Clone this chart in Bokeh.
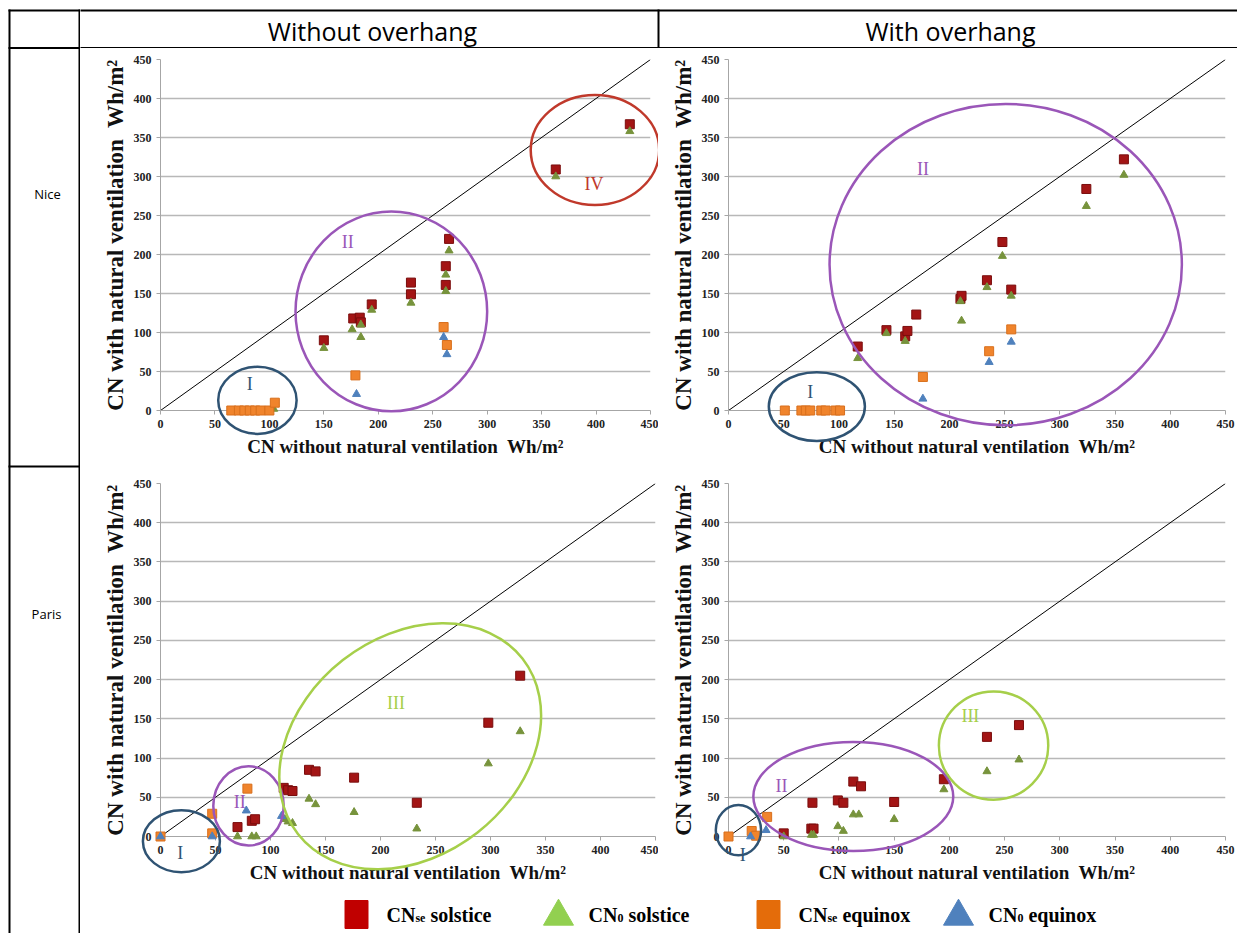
import math
from bokeh.plotting import figure
from bokeh.models import Range1d, FixedTicker
from bokeh.layouts import row, column
from bokeh.core.properties import value
from bokeh.embed import file_html
from bokeh.resources import INLINE

# ---------------- data ----------------
TICKS = [0, 50, 100, 150, 200, 250, 300, 350, 400, 450]
DIAG = [0, 450]

COL_HEADERS = ["Without overhang", "With overhang"]
ROW_LABELS = ["Nice", "Paris"]
X_LABEL = "CN without natural ventilation\u00a0 Wh/m\u00b2"
Y_LABEL = "CN with natural ventilation\u00a0 Wh/m\u00b2"
LEGEND = [("CN", "se", "solstice"), ("CN", "0", "solstice"),
          ("CN", "se", "equinox"), ("CN", "0", "equinox")]

# Nice, without overhang
nice_wo_se_sol_x = [150, 177, 183, 184, 194, 230, 230, 262, 262, 265, 363, 431]
nice_wo_se_sol_y = [90, 118, 119, 113, 136, 164, 149, 185, 161, 220, 309, 367]
nice_wo_0_sol_x = [104, 150, 176, 184, 184, 194, 230, 262, 262, 265, 363, 431]
nice_wo_0_sol_y = [2, 80, 104, 94, 110, 129, 138, 174, 153, 205, 300, 358]
nice_wo_se_eq_x = [65, 72, 77, 82, 87, 92, 100, 105, 179, 260, 263]
nice_wo_se_eq_y = [0, 0, 0, 0, 0, 0, 0, 10, 45, 107, 84]
nice_wo_0_eq_x = [180, 260, 263]
nice_wo_0_eq_y = [21, 94, 72]

# Nice, with overhang
nice_w_se_sol_x = [117, 143, 160, 162, 170, 210, 211, 234, 248, 256, 324, 358]
nice_w_se_sol_y = [82, 103, 95, 102, 123, 143, 147, 167, 216, 155, 284, 322]
nice_w_0_sol_x = [117, 143, 160, 210, 211, 234, 248, 256, 324, 358]
nice_w_0_sol_y = [67, 99, 89, 140, 115, 158, 198, 147, 262, 302]
nice_w_se_eq_x = [51, 66, 70, 74, 84, 88, 97, 101, 176, 236, 256]
nice_w_se_eq_y = [0, 0, 0, 0, 0, 0, 0, 0, 43, 76, 104]
nice_w_0_eq_x = [176, 236, 256]
nice_w_0_eq_y = [15, 62, 88]

# Paris, without overhang
paris_wo_se_sol_x = [70, 83, 86, 112, 116, 120, 135, 141, 176, 233, 298, 327]
paris_wo_se_sol_y = [12, 20, 22, 62, 59, 58, 85, 83, 75, 43, 145, 205]
paris_wo_0_sol_x = [70, 83, 87, 113, 116, 120, 135, 141, 176, 233, 298, 327]
paris_wo_0_sol_y = [0, 0, 0, 22, 19, 17, 48, 41, 31, 10, 93, 134]
paris_wo_se_eq_x = [0, 47, 47, 79]
paris_wo_se_eq_y = [0, 29, 4, 61]
paris_wo_0_eq_x = [0, 47, 78, 110]
paris_wo_0_eq_y = [0, 0, 33, 26]

# Paris, with overhang
paris_w_se_sol_x = [50, 75, 77, 76, 99, 104, 113, 120, 150, 195, 234, 263]
paris_w_se_sol_y = [4, 10, 10, 43, 46, 43, 70, 64, 44, 73, 127, 142]
paris_w_0_sol_x = [50, 75, 77, 99, 104, 113, 118, 150, 195, 234, 263]
paris_w_0_sol_y = [0, 2, 2, 13, 7, 28, 28, 22, 60, 83, 98]
paris_w_se_eq_x = [0, 21, 25, 35]
paris_w_se_eq_y = [0, 7, 1, 25]
paris_w_0_eq_x = [20, 34]
paris_w_0_eq_y = [0, 8]

# ---------------- styles ----------------
C_RED = "#a31515"
C_GREEN = "#77933c"
C_ORANGE = "#f0842c"
C_BLUE = "#4f81bd"
LEG_COLORS = ["#c00000", "#92d050", "#e46c0a", "#4f81bd"]
E_I = "#2f5373"
E_II = "#9a56b8"
E_III = "#a6cf4a"
E_IV = "#c0392b"
SERIF = "Liberation Serif"
SANS = "Open Sans"

# cluster annotations: (cx, cy, w, h, angle_deg, colour, label, lx, ly)
ELL_NICE_WO = [(89, 13, 72, 86, 0, E_I, "I", 82, 34),
               (212, 127, 176, 256, 0, E_II, "II", 172, 216),
               (399, 334, 118, 141, 0, E_IV, "IV", 398, 291)]
ELL_NICE_W = [(80, 5, 87, 88, 0, E_I, "I", 74, 24),
              (251, 187, 319, 412, 0, E_II, "II", 176, 310)]
ELL_PARIS_WO = [(19, -6, 70, 79, 0, E_I, "I", 18, -21),
                (80, 39, 64, 101, 0, E_II, "II", 72, 44),
                (227, 115, 259, 279, 38, E_III, "III", 214, 170)]
ELL_PARIS_W = [(9, 8, 41, 64, 0, E_I, "I", 13, -23),
               (113, 51, 181, 139, 0, E_II, "II", 48, 65),
               (240, 116, 99, 138, 0, E_III, "III", 219, 154)]


def make_panel(w, h, borders, series, ellipses):
    bl, br, bt, bb = borders
    p = figure(width=w, height=h, output_backend="svg", toolbar_location=None,
               x_range=Range1d(0, 450), y_range=Range1d(0, 450),
               min_border_left=bl, min_border_right=br,
               min_border_top=bt, min_border_bottom=bb,
               background_fill_color="white", border_fill_color="white",
               outline_line_color=None)
    p.xgrid.visible = False
    p.ygrid.ticker = FixedTicker(ticks=TICKS)
    p.ygrid.grid_line_color = "#b8b8b8"
    p.ygrid.grid_line_width = 1.5
    for ax in (p.xaxis[0], p.yaxis[0]):
        ax.ticker = FixedTicker(ticks=TICKS)
        ax.major_label_text_font = SERIF
        ax.major_label_text_font_style = "bold"
        ax.major_label_text_font_size = "12px"
        ax.major_label_text_color = "#222222"
        ax.axis_line_color = "#a6a6a6"
        ax.major_tick_line_color = "#a6a6a6"
        ax.minor_tick_line_color = None
        ax.major_tick_in = 0
        ax.major_tick_out = 4
        ax.major_label_standoff = 5
        ax.axis_label_text_font = SERIF
        ax.axis_label_text_font_style = "bold"
        ax.axis_label_text_color = "#111111"
    p.xaxis.axis_label = X_LABEL
    p.xaxis.axis_label_text_font_size = "19px"
    p.xaxis.axis_label_standoff = 5
    p.yaxis.axis_label = Y_LABEL
    p.yaxis.axis_label_text_font_size = "23px"
    p.yaxis.axis_label_standoff = 3

    p.line(DIAG, DIAG, line_color="black", line_width=1)

    (rx, ry), (gx, gy), (ox, oy), (bx, by) = series
    p.scatter(rx, ry, marker="square", size=9, fill_color=C_RED, line_color="#7a0d0d", level="overlay")
    p.scatter(gx, gy, marker="triangle", size=8, fill_color=C_GREEN, line_color=C_GREEN, level="overlay")
    p.scatter(ox, oy, marker="square", size=9, fill_color=C_ORANGE, line_color="#d86f1c", level="overlay")
    p.scatter(bx, by, marker="triangle", size=8, fill_color=C_BLUE, line_color=C_BLUE, level="overlay")

    for cx, cy, ew, eh, ang, col, lab, lx, ly in ellipses:
        p.ellipse(x=[cx], y=[cy], width=[ew], height=[eh], angle=math.radians(ang),
                  fill_color=None, line_color=col, line_width=2.5, level="overlay")
        p.text(x=[lx], y=[ly], text=[lab], text_color=col, text_font=value(SERIF),
               text_font_size="18px", text_align="center", text_baseline="middle",
               level="overlay")
    return p


def deco_fig(w, h):
    p = figure(width=w, height=h, output_backend="svg", toolbar_location=None,
               x_range=Range1d(0, w), y_range=Range1d(h, 0),
               x_axis_location=None, y_axis_location=None,
               min_border=0, min_border_left=0, min_border_right=0,
               min_border_top=0, min_border_bottom=0,
               background_fill_color="white", border_fill_color="white",
               outline_line_color=None)
    p.grid.visible = False
    return p


HDR_H, NICE_H, PARIS_H, LEG_H = 48, 417, 430, 38
TOTAL_H = HDR_H + NICE_H + PARIS_H + LEG_H

# ---------------- left label column ----------------
lab = deco_fig(80, TOTAL_H)
lab.segment(x0=[8, 9, 79, 8, 8], y0=[10, 9, 9, 47.5, 466],
            x1=[80, 9, 79, 80, 80], y1=[10, TOTAL_H, TOTAL_H, 47.5, 466],
            line_color="black", line_width=2, level="overlay")
lab.text(x=[47, 46], y=[193, 613], text=ROW_LABELS, text_font=value(SANS),
         text_font_size="13px", text_align="center", text_baseline="middle",
         text_color="black")

# ---------------- header row ----------------
hdr = deco_fig(1157, HDR_H)
hdr.segment(x0=[0, 0, 578], y0=[10, 47.5, 9], x1=[1157, 1157, 578], y1=[10, 47.5, HDR_H],
            line_color="black", line_width=2, level="overlay")
hdr.text(x=[292, 870], y=[30, 30], text=COL_HEADERS, text_font=value(SANS),
         text_font_size="25px", text_align="center", text_baseline="middle",
         text_color="black")

# ---------------- panels ----------------
nw = make_panel(578, NICE_H, (80, 8, 11, 55),
                [(nice_wo_se_sol_x, nice_wo_se_sol_y), (nice_wo_0_sol_x, nice_wo_0_sol_y),
                 (nice_wo_se_eq_x, nice_wo_se_eq_y), (nice_wo_0_eq_x, nice_wo_0_eq_y)],
                ELL_NICE_WO)
ne = make_panel(579, NICE_H, (70, 12, 11, 49),
                [(nice_w_se_sol_x, nice_w_se_sol_y), (nice_w_0_sol_x, nice_w_0_sol_y),
                 (nice_w_se_eq_x, nice_w_se_eq_y), (nice_w_0_eq_x, nice_w_0_eq_y)],
                ELL_NICE_W)
sw = make_panel(578, PARIS_H, (80, 3, 16, 54),
                [(paris_wo_se_sol_x, paris_wo_se_sol_y), (paris_wo_0_sol_x, paris_wo_0_sol_y),
                 (paris_wo_se_eq_x, paris_wo_se_eq_y), (paris_wo_0_eq_x, paris_wo_0_eq_y)],
                ELL_PARIS_WO)
se = make_panel(579, PARIS_H, (70, 12, 18, 59),
                [(paris_w_se_sol_x, paris_w_se_sol_y), (paris_w_0_sol_x, paris_w_0_sol_y),
                 (paris_w_se_eq_x, paris_w_se_eq_y), (paris_w_0_eq_x, paris_w_0_eq_y)],
                ELL_PARIS_W)

# ---------------- legend ----------------
TNR_B = {"C": 722, "N": 722, "s": 389, "e": 444, " ": 250, "o": 500, "l": 278,
         "t": 333, "i": 278, "c": 444, "q": 556, "u": 556, "n": 556, "x": 500, "0": 500}


def tw(s, size):
    return sum(TNR_B.get(ch, 500) for ch in s) / 1000.0 * size


leg = deco_fig(1157, LEG_H)
MARK_X = [276, 478, 688, 878]
BIG, SMALL = 20, 12
cy = 19
for i, (a, b, c) in enumerate(LEGEND):
    mx = MARK_X[i]
    if i % 2 == 0:
        leg.rect(x=[mx], y=[cy], width=[23], height=[28], fill_color=LEG_COLORS[i],
                 line_color=LEG_COLORS[i])
    else:
        leg.scatter(x=[mx], y=[cy + 2], marker="triangle", size=30, fill_color=LEG_COLORS[i],
                    line_color=LEG_COLORS[i])
    tx = mx + 30
    leg.text(x=[tx], y=[cy], text=[a], text_font=value(SERIF), text_font_style="bold",
             text_font_size=f"{BIG}px", text_baseline="middle", text_color="black")
    tx2 = tx + tw(a, BIG)
    leg.text(x=[tx2], y=[cy + 3], text=[b], text_font=value(SERIF), text_font_style="bold",
             text_font_size=f"{SMALL}px", text_baseline="middle", text_color="black")
    tx3 = tx2 + tw(b, SMALL) + 5
    leg.text(x=[tx3], y=[cy], text=[c], text_font=value(SERIF), text_font_style="bold",
             text_font_size=f"{BIG}px", text_baseline="middle", text_color="black")

right = column(hdr, row(nw, ne), row(sw, se), leg)
layout = row(lab, right)

with open("out.html", "w") as f:
    f.write(file_html(layout, INLINE))
